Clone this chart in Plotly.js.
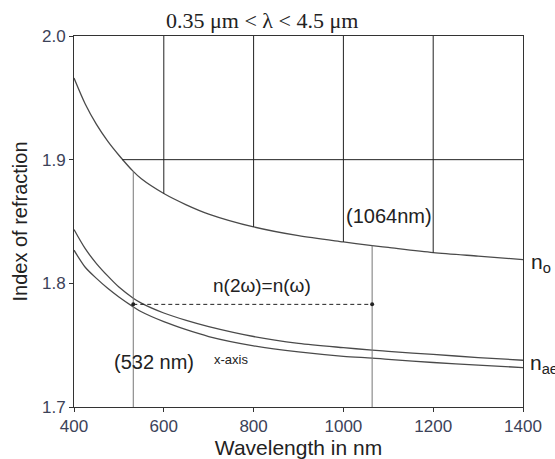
<!DOCTYPE html>
<html>
<head>
<meta charset="utf-8">
<script src="https://cdn.plot.ly/plotly-3.0.1.min.js"></script>
<style>html,body{margin:0;padding:0;background:#fff;}#chart{width:555px;height:459px;}</style>
</head>
<body>
<div id="chart"></div>
<script>
// Wavelengths (nm)
const wavelength = [400, 425, 450, 475, 500, 532, 550, 600, 650, 700, 800, 900, 1000, 1064, 1100, 1200, 1300, 1400];
// Ordinary index n_o
const nO   = [1.966, 1.945, 1.9285, 1.915, 1.9036, 1.8905, 1.8845, 1.8726, 1.8635, 1.856, 1.8456, 1.8385, 1.8335, 1.8305, 1.829, 1.8249, 1.822, 1.8192];
// Middle curve
const nMid = [1.8435, 1.828, 1.816, 1.806, 1.797, 1.788, 1.784, 1.776, 1.770, 1.765, 1.757, 1.7515, 1.748, 1.746, 1.745, 1.7425, 1.740, 1.7378];
// Lower curve (n_ae)
const nLow = [1.8268, 1.813, 1.804, 1.796, 1.789, 1.781, 1.777, 1.769, 1.7625, 1.757, 1.7495, 1.7445, 1.741, 1.7396, 1.7385, 1.736, 1.7338, 1.7319];
// Grid columns clipped by n_o curve
const gridX = [600, 800, 1000, 1200];
const gridTop = 2.0;
const hLineY = 1.9;
const hLineStart = 507;
// Phase matching markers
const pmX = [532, 1064];
const pmY = 1.783;
const yBottom = 1.7;

const lookup = x => nO[wavelength.indexOf(x)];

const traces = [];
const curveStyle = {color: '#4a4a4a', width: 1.3, shape: 'spline', smoothing: 0.8};
[nO, nMid, nLow].forEach(arr => traces.push({
  x: wavelength, y: arr, type: 'scatter', mode: 'lines', line: curveStyle, hoverinfo: 'skip'
}));
gridX.forEach(gx => traces.push({
  x: [gx, gx], y: [gridTop, lookup(gx)], type: 'scatter', mode: 'lines',
  line: {color: '#222', width: 1}
}));
traces.push({x: [hLineStart, 1400], y: [hLineY, hLineY], type: 'scatter', mode: 'lines', line: {color: '#222', width: 1}});
pmX.forEach(px => traces.push({
  x: [px, px], y: [lookup(px), yBottom], type: 'scatter', mode: 'lines',
  line: {color: '#777', width: 1}
}));
traces.push({x: pmX, y: [pmY, pmY], type: 'scatter', mode: 'lines+markers',
  line: {color: '#222', width: 1, dash: '4px,3px'}, marker: {color: '#222', size: 4}});

const sans = 'Liberation Sans';
const layout = {
  width: 555, height: 459,
  margin: {l: 74, r: 32, t: 36, b: 52},
  showlegend: false,
  paper_bgcolor: '#fff', plot_bgcolor: '#fff',
  font: {family: sans, color: '#222'},
  xaxis: {
    range: [400, 1400], tickvals: [400, 600, 800, 1000, 1200, 1400],
    showgrid: false, zeroline: false, showline: true, mirror: true,
    linecolor: '#333', linewidth: 1, ticks: 'outside', ticklen: 4, tickcolor: '#333',
    tickfont: {family: sans, size: 17, color: '#3c4258'},
    title: {text: 'Wavelength in nm', font: {family: sans, size: 21, color: '#222'}, standoff: 2}
  },
  yaxis: {
    range: [1.7, 2.0], tickvals: [1.7, 1.8, 1.9, 2.0], tickformat: '.1f',
    showgrid: false, zeroline: false, showline: true, mirror: true,
    linecolor: '#333', linewidth: 1, ticks: 'outside', ticklen: 4, tickcolor: '#333',
    tickfont: {family: sans, size: 17, color: '#3c4258'},
    title: {text: 'Index of refraction', font: {family: sans, size: 20, color: '#222'}, standoff: 8}
  },
  annotations: [
    {text: '0.35 μm < λ < 4.5 μm', xref: 'paper', yref: 'paper', x: 0.419, y: 1.0, yshift: 30,
      showarrow: false, font: {family: 'Liberation Serif', size: 22, color: '#222'}},
    {text: '(1064nm)', x: 1102, y: 1.8542, xref: 'x', yref: 'y', showarrow: false,
      font: {size: 20, color: '#222'}},
    {text: 'n(2ω)=n(ω)', x: 819, y: 1.7985, xref: 'x', yref: 'y', showarrow: false,
      font: {size: 19, color: '#222'}},
    {text: '(532 nm)', x: 579, y: 1.7365, xref: 'x', yref: 'y', showarrow: false,
      font: {size: 20, color: '#222'}},
    {text: 'x-axis', x: 750, y: 1.7385, xref: 'x', yref: 'y', showarrow: false,
      font: {size: 13, color: '#222'}},
    {text: 'n<sub>o</sub>', x: 1, xshift: 6, y: 1.8165, xref: 'paper', yref: 'y', xanchor: 'left', showarrow: false,
      font: {size: 21, color: '#222'}},
    {text: 'n<sub>ae</sub>', x: 1, xshift: 5, y: 1.7345, xref: 'paper', yref: 'y', xanchor: 'left', showarrow: false,
      font: {size: 21, color: '#222'}}
  ]
};
Plotly.newPlot('chart', traces, layout, {displayModeBar: false, staticPlot: true});
</script>
</body>
</html>
